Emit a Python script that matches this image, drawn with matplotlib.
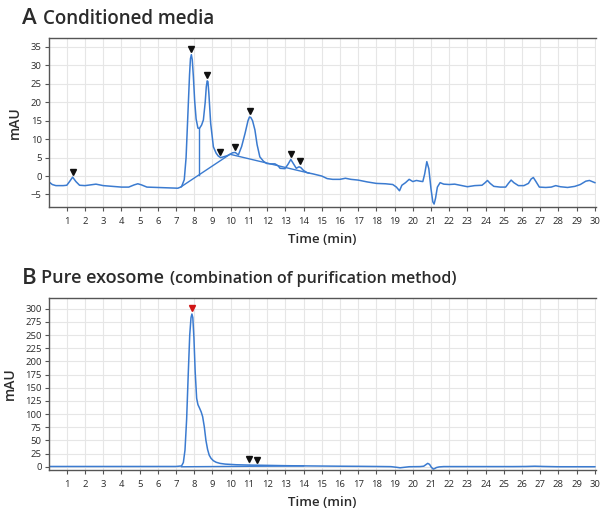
# -*- coding: utf-8 -*-
"""Two SEC chromatograms: conditioned media vs pure exosome."""

import matplotlib
matplotlib.use("Agg")
import matplotlib.pyplot as plt
from matplotlib.transforms import offset_copy

plt.rcParams['font.family'] = ['Open Sans', 'DejaVu Sans']

# ---- panel A: conditioned media ----
t_a = [0, 0.2, 0.4, 0.8, 1.0, 1.15, 1.32, 1.5, 1.7, 2.0,
       2.3, 2.6, 3.0, 3.5, 4.0, 4.4, 4.7, 4.9, 5.1, 5.4,
       6.0, 6.5, 7.1, 7.3, 7.45, 7.55, 7.67, 7.74, 7.79, 7.84,
       7.89, 7.95, 8.02, 8.1, 8.2, 8.28, 8.4, 8.5, 8.6, 8.66,
       8.71, 8.75, 8.8, 8.9, 9.05, 9.2, 9.32, 9.45, 9.6, 9.8,
       9.96, 10.1, 10.25, 10.42, 10.6, 10.79, 10.95, 11.03, 11.1, 11.2,
       11.33, 11.45, 11.6, 11.8, 11.98, 12.2, 12.43, 12.6, 12.71, 12.98,
       13.15, 13.3, 13.45, 13.6, 13.75, 13.85, 14.0, 14.2, 14.5, 15.0,
       15.3, 15.6, 16.0, 16.3, 16.6, 17.0, 17.5, 18.0, 18.5, 18.9,
       19.1, 19.27, 19.4, 19.6, 19.8, 20.0, 20.2, 20.4, 20.55, 20.65,
       20.77, 20.88, 21.0, 21.1, 21.17, 21.25, 21.35, 21.5, 21.7, 22.0,
       22.3, 22.6, 23.0, 23.4, 23.8, 23.95, 24.1, 24.25, 24.45, 24.8,
       25.1, 25.25, 25.4, 25.55, 25.8, 26.1, 26.35, 26.5, 26.62, 26.75,
       26.95, 27.3, 27.6, 27.85, 28.1, 28.5, 28.9, 29.2, 29.5, 29.7,
       29.85, 30.0]
v_a = [-1.5, -2.3, -2.6, -2.6, -2.5, -1.5, -0.3, -1.5, -2.5, -2.6,
       -2.4, -2.2, -2.6, -2.8, -3.0, -3.0, -2.4, -2.1, -2.4, -3.0,
       -3.1, -3.2, -3.3, -2.9, -1.0, 5.0, 18.8, 27.5, 31.8, 32.9,
       31.5, 27.0, 20.5, 15.5, 13.0, 12.9, 13.8, 15.2, 20.0, 24.2,
       25.8, 25.6, 22.5, 14.3, 7.9, 6.2, 5.4, 5.0, 5.2, 5.5,
       5.9, 6.3, 6.4, 5.7, 8.0, 11.6, 15.0, 16.0, 15.9, 15.0,
       12.5, 8.5, 5.2, 4.0, 3.4, 3.3, 3.3, 2.8, 2.1, 2.0,
       3.2, 4.5, 3.3, 2.1, 2.5, 2.3, 1.5, 0.9, 0.6, 0.0,
       -0.7, -0.9, -0.9, -0.6, -0.9, -1.1, -1.6, -2.0, -2.1, -2.3,
       -3.0, -4.0, -2.5, -1.8, -0.9, -1.5, -1.2, -1.4, -1.5, 0.5,
       3.9, 2.0, -3.5, -7.0, -7.6, -6.0, -3.0, -1.8, -2.2, -2.3,
       -2.2, -2.5, -2.9, -2.6, -2.5, -1.9, -1.2, -2.0, -2.8, -3.0,
       -3.0, -2.0, -1.1, -1.8, -2.6, -2.6, -2.0, -0.8, -0.4, -1.4,
       -3.0, -3.1, -3.0, -2.6, -2.9, -3.1, -2.8, -2.3, -1.4, -1.2,
       -1.5, -1.8]
base_t_a = [7.28, 9.96, 14.3]
base_v_a = [-2.9, 5.9, 0.8]
drop_t_a = [8.28, 8.28]
drop_v_a = [0.35, 12.9]
peak_t_a = [1.32, 7.84, 8.72, 9.42, 10.25, 11.06, 13.3, 13.82]
peak_v_a = [-0.3, 32.9, 25.8, 5.0, 6.4, 16.0, 4.5, 2.5]

# ---- panel B: pure exosome ----
t_b = [0, 2, 4, 6, 7.0, 7.3, 7.4, 7.49, 7.58, 7.67,
       7.75, 7.82, 7.87, 7.92, 7.98, 8.05, 8.13, 8.2, 8.28, 8.38,
       8.46, 8.55, 8.64, 8.73, 8.82, 8.92, 9.05, 9.2, 9.41, 9.7,
       10.3, 11.0, 12.0, 13.0, 14.0, 15.0, 16.0, 17.0, 18.0, 18.8,
       19.1, 19.3, 19.55, 19.8, 20.4, 20.6, 20.72, 20.82, 20.92, 21.02,
       21.12, 21.2, 21.3, 21.45, 21.7, 22.5, 24.0, 25.5, 26.2, 26.7,
       27.2, 28.0, 29.0, 30.0]
v_b = [0.5, 0.5, 0.5, 0.5, 0.5, 1.5, 8, 31.6, 90, 177,
       250, 283, 290, 283, 245, 180, 130, 118, 112, 104,
       95, 76, 50, 33, 22, 16, 11.4, 8.5, 6.4, 5.0,
       3.8, 3.2, 2.6, 2.0, 1.6, 1.3, 1.0, 0.8, 0.5, 0.2,
       -1.0, -2.0, -1.0, 0.0, 0.3, 1.0, 4.0, 6.4, 4.5, -1.0,
       -4.4, -3.5, -1.5, -0.3, 0.3, 0.3, 0.3, 0.3, 0.5, 1.0,
       0.5, 0.0, 0.0, 0.0]
base_t_b = [7.3, 14.0]
base_v_b = [0.0, 1.5]
main_t_b = [7.87]
main_v_b = [290]
peak_t_b = [11.0, 11.45]
peak_v_b = [3.2, 3.0]

LINE = '#3b7bd0'
TXT = '#2b2b2b'

fig = plt.figure(figsize=(6.0, 5.08), dpi=100)
ax_a = fig.add_axes([0.081, 0.5925, 0.912, 0.3325])
ax_b = fig.add_axes([0.081, 0.075, 0.912, 0.338])


def style(ax, yticks, ylim):
    ax.set_xlim(0, 30.05)
    ax.set_ylim(*ylim)
    ax.set_xticks(range(1, 31))
    ax.set_yticks(yticks)
    ax.grid(True, color='#e6e6e6', linewidth=0.8)
    ax.set_axisbelow(True)
    for s in ['left', 'bottom', 'top']:
        ax.spines[s].set_color('#555555')
        ax.spines[s].set_linewidth(1.0)
    ax.spines['right'].set_visible(False)
    ax.tick_params(axis='both', labelsize=6.8, colors='#555555',
                   labelcolor=TXT, length=3, width=0.8, pad=2)
    ax.tick_params(axis='x', pad=4)
    ax.set_xlabel('Time (min)', fontsize=9.5, color=TXT, labelpad=5,
                  fontweight='semibold')
    ax.set_ylabel('mAU', fontsize=10, color=TXT, labelpad=6,
                  fontweight='semibold')


style(ax_a, range(-5, 40, 5), (-8.4, 37.4))
style(ax_b, range(0, 325, 25), (-6, 320))

ax_a.plot(t_a, v_a, color=LINE, lw=1.1, solid_joinstyle='round')
ax_a.plot(base_t_a, base_v_a, color=LINE, lw=1.0)
ax_a.plot(drop_t_a, drop_v_a, color=LINE, lw=1.0)
tr = offset_copy(ax_a.transData, fig=fig, y=4, units='points')
ax_a.plot(peak_t_a, peak_v_a, 'v', color='#111111', ms=5, transform=tr,
          ls='none')

ax_b.plot(t_b, v_b, color=LINE, lw=1.1, solid_joinstyle='round')
ax_b.plot(base_t_b, base_v_b, color=LINE, lw=1.0)
tr = offset_copy(ax_b.transData, fig=fig, y=4, units='points')
ax_b.plot(main_t_b, main_v_b, 'v', color='#d01515', ms=5, transform=tr,
          ls='none')
ax_b.plot(peak_t_b, peak_v_b, 'v', color='#111111', ms=5, transform=tr,
          ls='none')

# panel titles
fig.text(22 / 600, 1 - 19 / 508, 'A', fontsize=16, color=TXT,
         fontweight='semibold', va='center', ha='left')
fig.text(43 / 600, 1 - 19 / 508, 'Conditioned media', fontsize=13.5,
         color=TXT, fontweight='semibold', va='center', ha='left')
fig.text(22 / 600, 1 - 278 / 508, 'B', fontsize=16, color=TXT,
         fontweight='semibold', va='center', ha='left')
fig.text(41 / 600, 1 - 278 / 508, 'Pure exosome', fontsize=13,
         color=TXT, fontweight='semibold', va='center', ha='left')
fig.text(170 / 600, 1 - 279 / 508, '(combination of purification method)',
         fontsize=11.5, color=TXT, fontweight='semibold', va='center',
         ha='left')

fig.savefig('out.png', dpi=100)
